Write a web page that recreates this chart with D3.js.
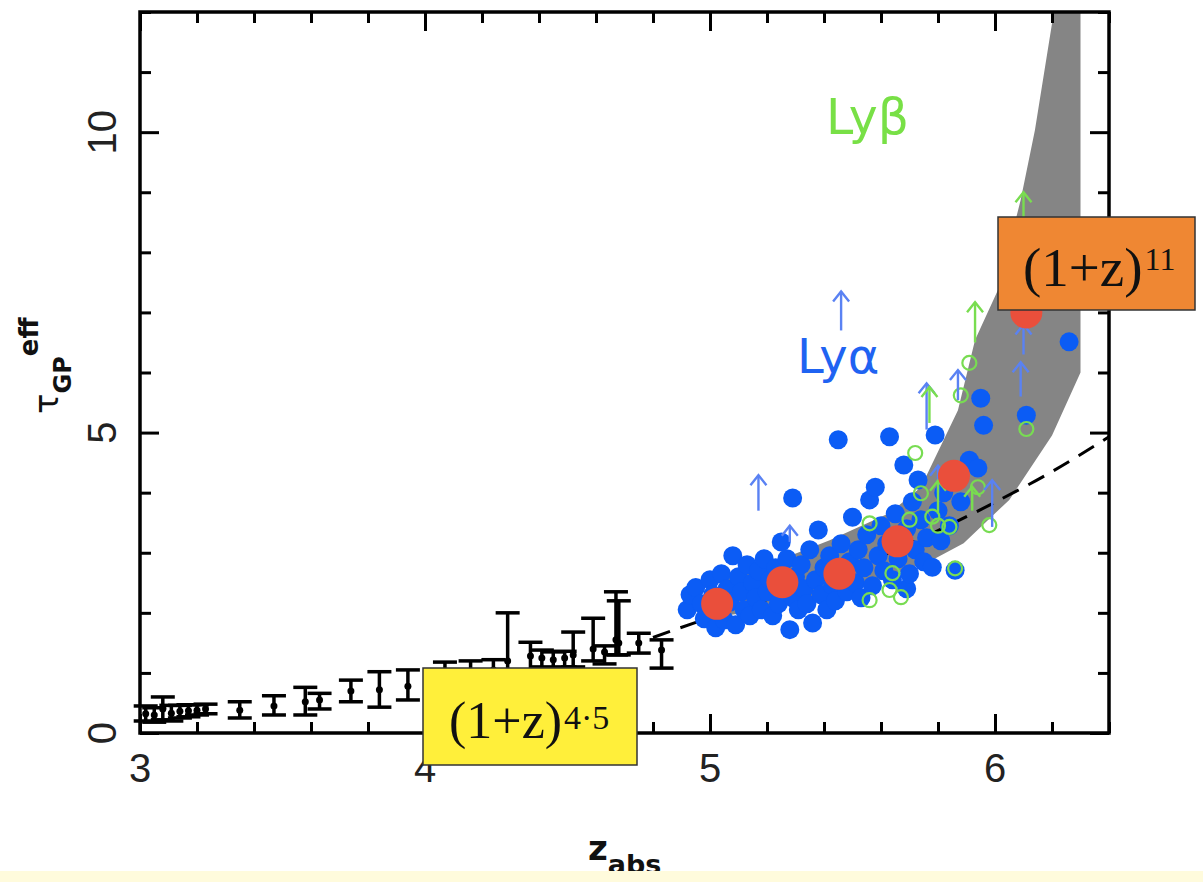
<!DOCTYPE html>
<html><head><meta charset="utf-8">
<script src="https://cdn.jsdelivr.net/npm/d3@7"></script>
<style>body{margin:0;background:#fff;} svg{display:block;}</style>
</head><body><svg id="c" width="1203" height="882"></svg>
<script>
// ---------------- data ----------------
const xTickLabels = [3, 4, 5, 6];
const yTickLabels = [0, 5, 10];

// black error-bar points: [z, tau, low, high]
const errBars = [
  [3.02,0.32,0.20,0.45],[3.05,0.30,0.18,0.42],[3.08,0.40,0.22,0.60],[3.11,0.33,0.20,0.46],
  [3.14,0.36,0.25,0.46],[3.17,0.37,0.27,0.47],[3.20,0.38,0.30,0.47],[3.23,0.40,0.32,0.48],
  [3.35,0.38,0.25,0.52],[3.47,0.45,0.30,0.62],[3.58,0.52,0.30,0.76],[3.63,0.55,0.40,0.66],
  [3.74,0.70,0.52,0.88],[3.84,0.72,0.43,1.02],[3.94,0.78,0.55,1.05],[4.07,0.95,0.70,1.18],
  [4.16,1.00,0.75,1.20],[4.24,1.05,0.80,1.22],[4.29,1.20,0.80,2.00],[4.37,1.28,1.05,1.51],
  [4.41,1.25,1.10,1.38],[4.45,1.22,1.05,1.35],[4.49,1.25,1.10,1.36],[4.52,1.30,1.10,1.68],
  [4.59,1.40,1.20,1.91],[4.63,1.35,1.15,1.45],[4.67,1.55,1.30,2.35],[4.68,1.50,1.30,2.20],
  [4.75,1.50,1.33,1.66],[4.83,1.38,1.08,1.55]
];

// Ly-alpha measurements (filled blue): [z, tau]
const lyaPoints = [
  [4.92,2.05],[4.93,2.30],[4.95,2.42],[4.97,2.15],[4.98,1.90],[5.00,2.55],[5.01,2.30],[5.02,1.75],
  [5.03,2.05],[5.04,2.65],[5.05,1.88],[5.06,2.40],[5.07,2.18],[5.08,2.95],[5.09,1.80],[5.10,2.60],
  [5.11,2.35],[5.12,2.05],[5.13,2.80],[5.14,1.95],[5.15,2.50],[5.16,2.25],[5.17,2.70],[5.18,2.05],
  [5.19,2.90],[5.20,2.35],[5.21,2.55],[5.22,1.95],[5.23,2.75],[5.24,2.15],[5.25,3.18],[5.26,2.45],
  [5.27,2.90],[5.28,1.72],[5.29,2.25],[5.29,3.91],[5.30,2.60],[5.31,2.05],[5.32,2.80],[5.33,2.40],
  [5.34,2.15],[5.35,3.05],[5.36,1.83],[5.37,2.55],[5.38,3.38],[5.39,2.30],[5.40,2.75],[5.41,2.05],
  [5.42,2.95],[5.43,2.45],[5.44,2.20],[5.45,4.88],[5.46,3.15],[5.47,2.60],[5.48,2.35],[5.49,2.85],
  [5.50,3.59],[5.51,2.50],[5.52,3.05],[5.53,2.25],[5.54,2.75],[5.55,3.30],[5.56,3.88],[5.57,2.45],
  [5.58,4.09],[5.59,2.95],[5.60,3.45],[5.61,2.70],[5.62,3.15],[5.63,4.93],[5.64,2.55],[5.65,3.65],
  [5.66,2.90],[5.68,4.46],[5.69,3.40],[5.69,2.40],[5.70,2.65],[5.71,3.85],[5.72,3.05],[5.73,4.21],
  [5.74,3.55],[5.75,2.85],[5.76,3.25],[5.78,2.76],[5.79,4.96],[5.80,3.70],[5.81,3.20],[5.82,4.00],
  [5.84,3.45],[5.86,2.71],[5.88,3.85],[5.91,4.54],[5.94,4.41],[5.95,5.57],[5.96,5.12],[6.11,5.29],
  [6.26,6.51]
];

// Ly-beta measurements (open green): [z, tau]
const lybPoints = [
  [5.72,4.66],[5.56,3.49],[5.74,3.99],[5.78,3.60],[5.84,3.43],[5.94,4.09],[5.98,3.46],[5.86,2.74],
  [5.64,2.66],[5.63,2.38],[5.67,2.26],[5.56,2.21],[6.11,5.06],[5.91,6.16],[5.88,5.62],[5.80,3.45],
  [5.70,3.55]
];

// lower limits: [z, base, tip]
const lyaLimits = [
  [5.46,6.70,7.35],[5.17,3.70,4.29],[6.10,6.30,6.80],[6.09,5.60,6.17],[5.76,5.05,5.82],
  [5.87,5.54,6.04],[5.80,4.00,4.45],[5.99,3.43,4.21],[5.28,3.18,3.45]
];
const lybLimits = [
  [6.10,8.30,9.00],[5.93,6.50,7.17],[5.77,5.16,5.76],[5.80,3.65,4.20],[5.92,3.70,4.10]
];

// binned means (red)
const meanPoints = [[5.025,2.15],[5.254,2.51],[5.454,2.65],[5.658,3.19],[5.856,4.28],[6.11,7.00]];

// (1+z)^4.5 curve
const fitZ   = [4.80, 5.0, 5.2, 5.4, 5.6, 5.8, 6.0, 6.2, 6.4];
const fitTau = [1.59, 1.92, 2.22, 2.56, 2.94, 3.37, 3.84, 4.35, 4.93];

// grey (1+z)^11 band outline
const bandUpper = [[5.05,2.55],[5.2,2.80],[5.42,3.21],[5.63,3.66],[5.74,4.09],[5.87,5.37],[5.93,6.54],
                   [6.01,7.37],[6.09,8.87],[6.14,10.03],[6.22,12.4]];
const bandLower = [[6.30,12.4],[6.30,6.0],[6.20,4.95],[6.05,3.88],[5.89,3.16],[5.78,2.88],
                   [5.60,2.55],[5.40,2.25],[5.20,2.05],[5.05,1.95]];

// ---------------- drawing ----------------
const svg = d3.select("#c");
const x = d3.scaleLinear().domain([3, 6.4]).range([140, 1109]);
const y = d3.scaleLinear().domain([0, 12]).range([733, 12]);

svg.append("rect").attr("width",1203).attr("height",882).attr("fill","#fff");
svg.append("clipPath").attr("id","plot").append("rect")
   .attr("x",140).attr("y",12).attr("width",969).attr("height",721);

const plot = svg.append("g").attr("clip-path","url(#plot)");

// band
plot.append("path")
  .datum(bandUpper.concat(bandLower))
  .attr("d", d3.line().x(d=>x(d[0])).y(d=>y(d[1])))
  .attr("fill","#858585");

// error bars
const eb = svg.append("g").attr("stroke","#000");
errBars.forEach(d=>{
  const cx = x(d[0]);
  eb.append("line").attr("x1",cx).attr("x2",cx).attr("y1",y(d[2])).attr("y2",y(d[3])).attr("stroke-width",3.5);
  [d[2],d[3]].forEach(v=>eb.append("line").attr("x1",cx-12).attr("x2",cx+12).attr("y1",y(v)).attr("y2",y(v)).attr("stroke-width",3.5));
  eb.append("circle").attr("cx",cx).attr("cy",y(d[1])).attr("r",3.5).attr("fill","#000").attr("stroke","none");
});

// blue points
svg.append("g").selectAll("circle").data(lyaPoints).join("circle")
  .attr("cx",d=>x(d[0])).attr("cy",d=>y(d[1])).attr("r",9.5).attr("fill","#0b5cf5");

// green open circles
svg.append("g").selectAll("circle").data(lybPoints).join("circle")
  .attr("cx",d=>x(d[0])).attr("cy",d=>y(d[1])).attr("r",7)
  .attr("fill","none").attr("stroke","#78dc52").attr("stroke-width",2.2);

function arrows(data, color){
  const g = svg.append("g").attr("stroke",color).attr("stroke-width",2.4).attr("fill","none");
  data.forEach(d=>{
    const cx = x(d[0]), yt = y(d[2]);
    g.append("line").attr("x1",cx).attr("x2",cx).attr("y1",y(d[1])).attr("y2",yt);
    g.append("path").attr("d",`M${cx-8},${yt+10}L${cx},${yt}L${cx+8},${yt+10}`);
  });
}
arrows(lyaLimits, "#5a82f3");
arrows(lybLimits, "#79dd50");

// dashed fit
plot.append("path")
  .datum(fitZ.map((z,i)=>[z,fitTau[i]]))
  .attr("d", d3.line().curve(d3.curveMonotoneX).x(d=>x(d[0])).y(d=>y(d[1])))
  .attr("fill","none").attr("stroke","#000").attr("stroke-width",3).attr("stroke-dasharray","18,11");

// red means
svg.append("g").selectAll("circle").data(meanPoints).join("circle")
  .attr("cx",d=>x(d[0])).attr("cy",d=>y(d[1])).attr("r",16).attr("fill","#ea4f3b");

// axes
function styleAxis(g){
  g.select(".domain").remove();
  g.selectAll(".tick line").attr("stroke","#000").attr("stroke-width",3);
}
const xMinor = d3.range(3, 6.4001, 0.2).filter(v=>Math.abs(v-Math.round(v))>1e-6);
const yMinor = d3.range(0, 12.001, 1).filter(v=>v%5!==0);

svg.append("g").attr("transform","translate(0,733)")
   .call(d3.axisBottom(x).tickValues(xTickLabels).tickSize(-19).tickFormat("")).call(styleAxis);
svg.append("g").attr("transform","translate(0,733)")
   .call(d3.axisBottom(x).tickValues(xMinor).tickSize(-11).tickFormat("")).call(styleAxis);
svg.append("g").attr("transform","translate(0,12)")
   .call(d3.axisTop(x).tickValues(xTickLabels).tickSize(-19).tickFormat("")).call(styleAxis);
svg.append("g").attr("transform","translate(0,12)")
   .call(d3.axisTop(x).tickValues(xMinor).tickSize(-11).tickFormat("")).call(styleAxis);
svg.append("g").attr("transform","translate(140,0)")
   .call(d3.axisLeft(y).tickValues(yTickLabels).tickSize(-19).tickFormat("")).call(styleAxis);
svg.append("g").attr("transform","translate(140,0)")
   .call(d3.axisLeft(y).tickValues(yMinor).tickSize(-11).tickFormat("")).call(styleAxis);
svg.append("g").attr("transform","translate(1109,0)")
   .call(d3.axisRight(y).tickValues(yTickLabels).tickSize(-19).tickFormat("")).call(styleAxis);
svg.append("g").attr("transform","translate(1109,0)")
   .call(d3.axisRight(y).tickValues(yMinor).tickSize(-11).tickFormat("")).call(styleAxis);

svg.append("rect").attr("x",140).attr("y",12).attr("width",969).attr("height",721)
   .attr("fill","none").attr("stroke","#000").attr("stroke-width",3.5);

// tick labels
svg.append("g").selectAll("text").data(xTickLabels).join("text")
  .attr("x",d=>x(d)).attr("y",782).attr("text-anchor","middle")
  .attr("font-family","Liberation Sans, Arial, sans-serif").attr("font-size",40).attr("fill","#222").text(d=>d);
svg.append("g").selectAll("text").data(yTickLabels).join("text")
  .attr("transform",d=>`translate(116,${y(d)}) rotate(-90)`).attr("text-anchor","middle")
  .attr("font-family","Liberation Sans, Arial, sans-serif").attr("font-size",40).attr("fill","#222").text(d=>d);

// series labels
svg.append("text").attr("x",826).attr("y",134).attr("font-family","DejaVu Sans, sans-serif")
  .attr("font-size",49).attr("fill","#78e046").text("Lyβ");
svg.append("text").attr("x",797).attr("y",373).attr("font-family","DejaVu Sans, sans-serif")
  .attr("font-size",48).attr("fill","#1f63f2").text("Lyα");

// boxes
svg.append("rect").attr("x",423).attr("y",668).attr("width",214).attr("height",97)
  .attr("fill","#ffef3a").attr("stroke","#333").attr("stroke-width",1.5);
const t1 = svg.append("text").attr("x",449).attr("y",738)
  .attr("font-family","Liberation Serif, Times New Roman, serif").attr("font-size",52).attr("fill","#111");
t1.append("tspan").text("(1+z)");
t1.append("tspan").attr("font-size",34).attr("dx",2).attr("dy",-9).text("4·5");

svg.append("rect").attr("x",998).attr("y",217).attr("width",197).attr("height",93)
  .attr("fill","#ef8733").attr("stroke","#333").attr("stroke-width",1.5);
const t2 = svg.append("text").attr("x",1023).attr("y",286)
  .attr("font-family","Liberation Serif, Times New Roman, serif").attr("font-size",55).attr("fill","#111");
t2.append("tspan").text("(1+z)");
t2.append("tspan").attr("font-size",32).attr("dx",2).attr("dy",-16).text("11");

// axis titles
const xl = svg.append("text").attr("x",588).attr("y",860)
  .attr("font-family","DejaVu Sans, sans-serif").attr("font-weight","bold").attr("fill","#111");
xl.append("tspan").attr("font-size",34).text("z");
xl.append("tspan").attr("font-size",27).attr("dy",14).text("abs");

const yl = svg.append("text").attr("transform","translate(58,414) rotate(-90)")
  .attr("font-family","DejaVu Sans, sans-serif").attr("fill","#111");
yl.append("tspan").attr("font-size",34).text("τ");
yl.append("tspan").attr("font-size",24).attr("font-weight","bold").attr("dy",13).text("GP");
yl.append("tspan").attr("font-size",26).attr("font-weight","bold").attr("dy",-33).text("eff");

// bottom cream strip
svg.append("rect").attr("x",0).attr("y",871).attr("width",1203).attr("height",11).attr("fill","#fffbdc");
</script></body></html>
